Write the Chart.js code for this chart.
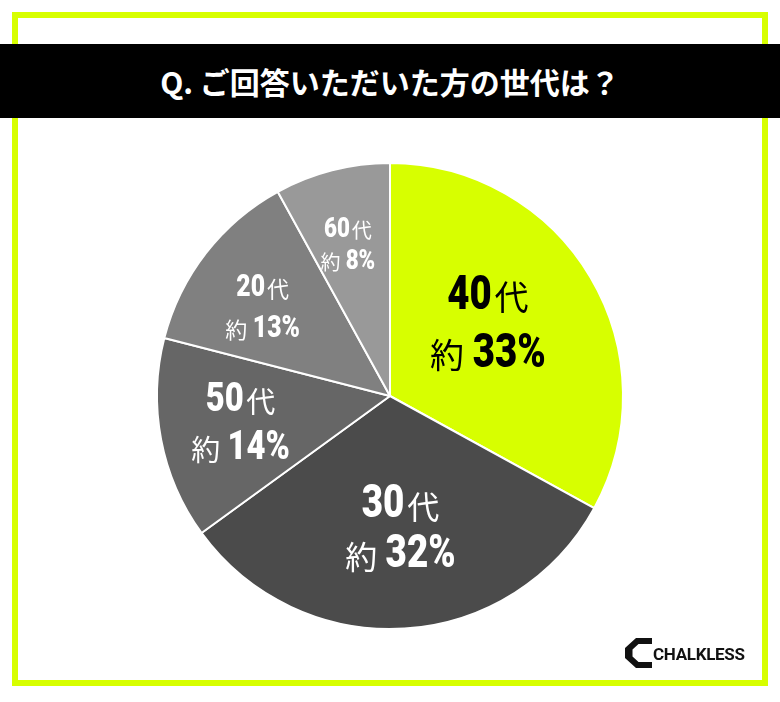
<!DOCTYPE html>
<html><head><meta charset="utf-8">
<script src="https://cdn.jsdelivr.net/npm/chart.js@4/dist/chart.umd.min.js"></script>
<style>
html,body{margin:0;padding:0;background:#fff;}
#wrap{position:relative;width:780px;height:702px;overflow:hidden;background:#fff;}
#frame{position:absolute;left:12px;top:12px;width:744px;height:662px;border:6px solid #d7ff00;}
#titlebar{position:absolute;left:0;top:44px;width:780px;height:74px;background:#000;color:#fff;
  font-family:"Noto Sans CJK JP","Noto Sans",sans-serif;font-weight:700;font-size:30px;line-height:74px;text-align:center;letter-spacing:0px;}
#chart{position:absolute;left:0;top:0;}
#logo{position:absolute;left:625px;top:638px;height:30px;display:flex;align-items:center;}
#logo span{font-family:Roboto,"Noto Sans",sans-serif;font-weight:700;font-size:17px;color:#111;margin-left:1px;margin-top:2px;letter-spacing:-0.3px;}
</style></head>
<body>
<div id="wrap">
  <div id="frame"></div>
  <canvas id="chart" width="780" height="702"></canvas>
  <div id="titlebar">Q. ご回答いただいた方の世代は？</div>
  <div id="logo">
    <svg width="27" height="30" viewBox="0 0 27 30"><path d="M11 0 L27 0 L27 6 L13.5 6 L7.5 11.5 L7.5 18.5 L13.5 24 L27 24 L27 30 L11 30 L0 20 L0 10 Z" fill="#111"/></svg>
    <span>CHALKLESS</span>
  </div>
</div>
<script>
const categories = ['40代', '30代', '50代', '20代', '60代'];
const ageNumbers = ['40', '30', '50', '20', '60'];
const shares = [33, 32, 14, 13, 8];
const sliceColors = ['#d7ff00', '#4b4b4b', '#666666', '#808080', '#999999'];
const labelColors = ['#000000', '#ffffff', '#ffffff', '#ffffff', '#ffffff'];
// label placement/style per slice: radial fraction, angle offset (deg), digit font size, line gap
const labelStyle = [
  {r: 0.53, da: -7, size: 48, gap: 58},
  {r: 0.56, da: -1, size: 46, gap: 50},
  {r: 0.65, da: 1.4, size: 41, gap: 48},
  {r: 0.67, da: -2.5, size: 31, gap: 41},
  {r: 0.68, da: -1, size: 28, gap: 32}
];

const sliceLabels = {
  id: 'sliceLabels',
  afterDatasetsDraw(chart) {
    const ctx = chart.ctx;
    const meta = chart.getDatasetMeta(0);
    const cx = 0.8;
    const numFont = s => `900 ${s}px Roboto, "DejaVu Sans", sans-serif`;
    const kanjiFont = s => `400 ${Math.round(s * 0.7)}px "Noto Sans CJK JP", sans-serif`;
    meta.data.forEach((arc, i) => {
      const p = arc.getProps(['x', 'y', 'startAngle', 'endAngle', 'outerRadius'], true);
      const st = labelStyle[i];
      const mid = (p.startAngle + p.endAngle) / 2 + st.da * Math.PI / 180;
      const px = p.x + Math.cos(mid) * p.outerRadius * st.r;
      const py = p.y + Math.sin(mid) * p.outerRadius * st.r;
      const s = st.size;
      ctx.save();
      ctx.fillStyle = labelColors[i];
      ctx.textAlign = 'left';
      ctx.textBaseline = 'alphabetic';
      const drawNum = (t, x, y) => {
        ctx.font = numFont(s);
        ctx.save(); ctx.translate(x, y); ctx.scale(cx, 1); ctx.fillText(t, 0, 0); ctx.restore();
      };
      // line 1: number + 代
      const b1 = py - st.gap / 2 + s * 0.355;
      ctx.font = numFont(s);
      const wn = ctx.measureText(ageNumbers[i]).width * cx;
      ctx.font = kanjiFont(s);
      const wk = ctx.measureText('代').width;
      const g1 = s * 0.06;
      let x0 = px - (wn + g1 + wk) / 2;
      drawNum(ageNumbers[i], x0, b1);
      ctx.font = kanjiFont(s);
      ctx.fillText('代', x0 + wn + g1, b1 + s * 0.03);
      // line 2: 約 + pct
      const b2 = py + st.gap / 2 + s * 0.355;
      const pct = shares[i] + '%';
      ctx.font = kanjiFont(s);
      const wy = ctx.measureText('約').width;
      ctx.font = numFont(s);
      const wp = ctx.measureText(pct).width * cx;
      const g2 = s * 0.18;
      x0 = px - (wy + g2 + wp) / 2;
      ctx.font = kanjiFont(s);
      ctx.fillText('約', x0, b2 + s * 0.03);
      drawNum(pct, x0 + wy + g2, b2);
      ctx.restore();
    });
  }
};

new Chart(document.getElementById('chart'), {
  type: 'pie',
  data: {
    labels: categories,
    datasets: [{
      data: shares,
      backgroundColor: sliceColors,
      borderColor: '#ffffff',
      borderWidth: 2
    }]
  },
  options: {
    responsive: false,
    animation: false,
    devicePixelRatio: 1,
    layout: {padding: {left: 156, right: 156, top: 162, bottom: 72}},
    plugins: {legend: {display: false}, tooltip: {enabled: false}, title: {display: false}}
  },
  plugins: [sliceLabels]
});
</script>
</body></html>
